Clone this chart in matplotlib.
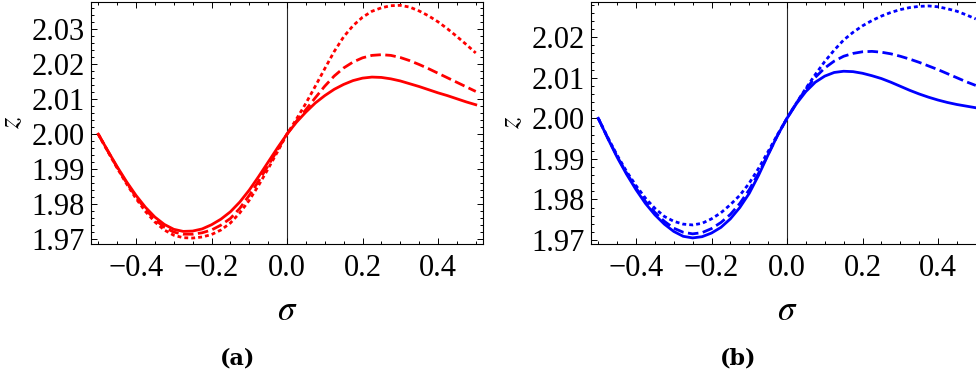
import numpy as np
import matplotlib.pyplot as plt
from matplotlib.ticker import MultipleLocator, FuncFormatter

plt.rcParams['font.family'] = ['Liberation Serif', 'DejaVu Serif']
plt.rcParams['mathtext.fontset'] = 'stix'

# sigma grid, step 0.025
sigma = [-0.500, -0.475, -0.450, -0.425, -0.400, -0.375, -0.350, -0.325, -0.300, -0.275,
         -0.250, -0.225, -0.200, -0.175, -0.150, -0.125, -0.100, -0.075, -0.050, -0.025,
         0.000, 0.025, 0.050, 0.075, 0.100, 0.125, 0.150, 0.175, 0.200, 0.225,
         0.250, 0.275, 0.300, 0.325, 0.350, 0.375, 0.400, 0.425, 0.450, 0.475, 0.500]

# panel (a), red curves
za_solid = [2.0000, 1.9953, 1.9907, 1.9864, 1.9825, 1.9791, 1.9763, 1.9742, 1.9728, 1.9722,
            1.9723, 1.9729, 1.9741, 1.9757, 1.9778, 1.9806, 1.9840, 1.9879, 1.9920, 1.9961,
            2.0000, 2.0034, 2.0063, 2.0089, 2.0110, 2.0128, 2.0142, 2.0153, 2.0160, 2.0163,
            2.0162, 2.0158, 2.0152, 2.0144, 2.0136, 2.0127, 2.0118, 2.0110, 2.0101, 2.0092, 2.0084]
za_dashed = [2.0000, 1.9952, 1.9905, 1.9861, 1.9821, 1.9785, 1.9756, 1.9734, 1.9720, 1.9714,
             1.9714, 1.9718, 1.9726, 1.9740, 1.9759, 1.9788, 1.9825, 1.9866, 1.9910, 1.9955,
             2.0000, 2.0037, 2.0070, 2.0104, 2.0137, 2.0166, 2.0189, 2.0206, 2.0218, 2.0225,
             2.0227, 2.0225, 2.0219, 2.0210, 2.0199, 2.0187, 2.0174, 2.0161, 2.0148, 2.0135, 2.0122]
za_dotted = [2.0000, 1.9951, 1.9903, 1.9858, 1.9816, 1.9779, 1.9749, 1.9726, 1.9711, 1.9704,
             1.9703, 1.9706, 1.9713, 1.9726, 1.9746, 1.9775, 1.9811, 1.9854, 1.9901, 1.9950,
             2.0000, 2.0043, 2.0088, 2.0137, 2.0187, 2.0236, 2.0278, 2.0310, 2.0334, 2.0351,
             2.0361, 2.0367, 2.0368, 2.0363, 2.0352, 2.0338, 2.0321, 2.0301, 2.0279, 2.0256, 2.0232]

# panel (b), blue curves
zb_solid = [2.0000, 1.9951, 1.9904, 1.9862, 1.9824, 1.9790, 1.9762, 1.9739, 1.9721, 1.9709,
            1.9705, 1.9708, 1.9717, 1.9731, 1.9752, 1.9780, 1.9815, 1.9860, 1.9910, 1.9958,
            2.0000, 2.0036, 2.0066, 2.0089, 2.0104, 2.0113, 2.0116, 2.0115, 2.0111, 2.0105,
            2.0098, 2.0089, 2.0079, 2.0069, 2.0060, 2.0052, 2.0045, 2.0039, 2.0034, 2.0030, 2.0026]
zb_dashed = [2.0000, 1.9952, 1.9906, 1.9865, 1.9828, 1.9795, 1.9768, 1.9746, 1.9729, 1.9719,
             1.9715, 1.9718, 1.9728, 1.9743, 1.9763, 1.9790, 1.9824, 1.9865, 1.9911, 1.9958,
             2.0000, 2.0038, 2.0072, 2.0101, 2.0124, 2.0141, 2.0153, 2.0160, 2.0164, 2.0165,
             2.0163, 2.0159, 2.0153, 2.0146, 2.0138, 2.0129, 2.0120, 2.0110, 2.0100, 2.0090, 2.0081]
zb_dotted = [2.0000, 1.9953, 1.9909, 1.9869, 1.9834, 1.9803, 1.9778, 1.9758, 1.9746, 1.9739,
             1.9737, 1.9741, 1.9752, 1.9767, 1.9787, 1.9810, 1.9840, 1.9877, 1.9918, 1.9960,
             2.0000, 2.0038, 2.0074, 2.0108, 2.0140, 2.0168, 2.0193, 2.0212, 2.0228, 2.0241,
             2.0252, 2.0261, 2.0268, 2.0273, 2.0276, 2.0277, 2.0275, 2.0270, 2.0264, 2.0255, 2.0245]

W, H = 976, 379
fig = plt.figure(figsize=(W / 100, H / 100), dpi=100)

def px_axes(left, top, right, bottom):
    return fig.add_axes([left / W, 1 - bottom / H, (right - left) / W, (bottom - top) / H])

def fmt(digits):
    return FuncFormatter(lambda v, p: ('%.*f' % (digits, v)).replace('-', '\u2212'))

def style(ax, ylim, ylab_x):
    ax.set_xlim(-0.52, 0.52)
    ax.set_ylim(*ylim)
    ax.axvline(0, color='0.15', lw=0.8, zorder=1)
    ax.xaxis.set_major_locator(MultipleLocator(0.2))
    ax.xaxis.set_minor_locator(MultipleLocator(0.05))
    ax.yaxis.set_major_locator(MultipleLocator(0.01))
    ax.yaxis.set_minor_locator(MultipleLocator(0.002))
    ax.xaxis.set_major_formatter(fmt(1))
    ax.yaxis.set_major_formatter(fmt(2))
    ax.tick_params(which='both', direction='in', top=True, right=True, width=0.7)
    ax.tick_params(which='major', length=4, labelsize=22)
    ax.tick_params(which='minor', length=2)
    ax.tick_params(axis='x', pad=7)
    ax.tick_params(axis='y', pad=4)
    for s in ax.spines.values():
        s.set_linewidth(0.8)
    ax.set_xlabel(r'$\sigma$', fontsize=25)
    ax.set_ylabel(r'$z$', fontsize=21)
    ax.xaxis.set_label_coords(0.5, -0.21)
    ax.yaxis.set_label_coords(ylab_x, 0.5)

def curves(ax, color, zs, zd, zt):
    ax.plot(sigma, zs, color=color, lw=2.0)
    ax.plot(sigma, zd, color=color, lw=2.0, dashes=(3.8, 1.6), dash_capstyle='butt')
    ax.plot(sigma, zt, color=color, lw=2.0, dashes=(1.4, 1.1), dash_capstyle='butt')

axa = px_axes(90.7, 1.5, 483.3, 244)
curves(axa, '#ff0000', za_solid, za_dashed, za_dotted)
style(axa, (1.9686, 2.0379), -0.168)

axb = px_axes(590.7, 1.5, 983.3, 244)
curves(axb, '#0000ff', zb_solid, zb_dashed, zb_dotted)
style(axb, (1.9690, 2.0288), -0.168)

fig.text(238 / W, 1 - 358 / H, '(a)', ha='center', va='center', fontsize=16,
         fontweight='bold', family='DejaVu Serif')
fig.text(738 / W, 1 - 358 / H, '(b)', ha='center', va='center', fontsize=16,
         fontweight='bold', family='DejaVu Serif')

fig.savefig('out.png', dpi=100)
